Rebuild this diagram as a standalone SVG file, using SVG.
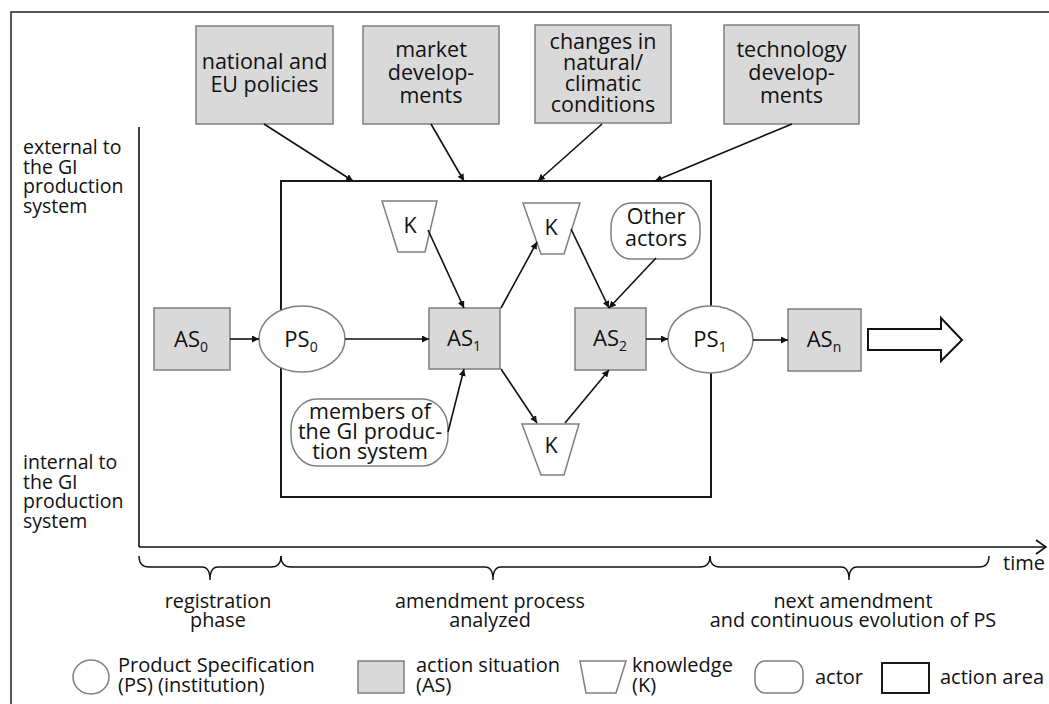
<svg xmlns="http://www.w3.org/2000/svg" width="1049" height="704" viewBox="0 0 1049 704">
<style>
text{font-family:"Open Sans","Noto Sans",sans-serif;fill:#111;}
.lbl{font-size:21.5px;text-anchor:middle;}
.side{font-size:19.5px;}
.as{fill:#d9d9d9;stroke:#7f7f7f;stroke-width:1.5;}
.ps{fill:#fff;stroke:#7f7f7f;stroke-width:1.5;}
.k{fill:#fff;stroke:#7f7f7f;stroke-width:1.5;}
.actor{fill:#fff;stroke:#7f7f7f;stroke-width:1.5;}
.area{fill:none;stroke:#1a1a1a;stroke-width:2;}
.edge{fill:none;stroke:#111;stroke-width:1.6;marker-end:url(#ah);}
.brace{fill:none;stroke:#111;stroke-width:1.4;}
.big{font-size:22px;text-anchor:middle;}
.sub{font-size:14px;}
.leg{font-size:20px;}
.ph{font-size:19.8px;text-anchor:middle;}
</style>
<defs>
<marker id="ah" viewBox="0 0 10 10" refX="10" refY="5" markerWidth="7" markerHeight="7" orient="auto" markerUnits="userSpaceOnUse">
<path d="M0,0 L10,5 L0,10 z" fill="#111"/>
</marker>
<marker id="open" viewBox="0 0 12 16" refX="11" refY="8" markerWidth="12" markerHeight="16" orient="auto" markerUnits="userSpaceOnUse">
<path d="M1,1 L11,8 L1,15" fill="none" stroke="#111" stroke-width="1.6"/>
</marker>
</defs>
<rect width="1049" height="704" fill="#fff"/>
<!-- outer frame -->
<path d="M11,704 L11,12 L1049,12" fill="none" stroke="#222" stroke-width="1.5"/>

<!-- axes -->
<g id="axes">
<line x1="139" y1="127" x2="139" y2="547" stroke="#111" stroke-width="1.6"/>
<line x1="139" y1="547" x2="1046" y2="547" stroke="#111" stroke-width="1.6" marker-end="url(#open)"/>
<text x="1003" y="570" style="font-size:20px">time</text>
</g>

<g id="side-labels">
<text class="side" x="23" y="154">external to</text>
<text class="side" x="23" y="174">the GI</text>
<text class="side" x="23" y="193">production</text>
<text class="side" x="23" y="213">system</text>
<text class="side" x="23" y="469">internal to</text>
<text class="side" x="23" y="489">the GI</text>
<text class="side" x="23" y="508">production</text>
<text class="side" x="23" y="528">system</text>
</g>

<!-- action area -->
<g id="action-area"><rect class="area" x="281" y="181" width="430" height="316"/></g>

<!-- top boxes -->
<g id="policies"><rect class="as" x="196" y="26" width="137" height="98"/>
<text class="lbl" x="264.5" y="69">national and</text><text class="lbl" x="264.5" y="92">EU policies</text></g>
<g id="market"><rect class="as" x="363" y="26" width="136" height="98"/>
<text class="lbl" x="431" y="57">market</text><text class="lbl" x="431" y="80">develop-</text><text class="lbl" x="431" y="103">ments</text></g>
<g id="climate"><rect class="as" x="535" y="25" width="136" height="98"/>
<text class="lbl" x="603" y="49">changes in</text><text class="lbl" x="603" y="70">natural/</text><text class="lbl" x="603" y="91">climatic</text><text class="lbl" x="603" y="112">conditions</text></g>
<g id="technology"><rect class="as" x="724" y="25" width="135" height="99"/>
<text class="lbl" x="791.5" y="57">technology</text><text class="lbl" x="791.5" y="80">develop-</text><text class="lbl" x="791.5" y="103">ments</text></g>

<!-- main row -->
<g id="AS0"><rect class="as" x="154" y="308" width="76" height="62"/>
<text class="big" x="191" y="347">AS<tspan class="sub" dy="5">0</tspan></text></g>
<g id="PS0"><ellipse class="ps" cx="302" cy="339" rx="43" ry="33"/>
<text class="big" x="301" y="347">PS<tspan class="sub" dy="5">0</tspan></text></g>
<g id="AS1"><rect class="as" x="429" y="308" width="71" height="61"/>
<text class="big" x="464" y="346">AS<tspan class="sub" dy="5">1</tspan></text></g>
<g id="AS2"><rect class="as" x="575" y="308" width="71" height="62"/>
<text class="big" x="610" y="346">AS<tspan class="sub" dy="5">2</tspan></text></g>
<g id="PS1"><ellipse class="ps" cx="710.5" cy="339.5" rx="42.5" ry="33.5"/>
<text class="big" x="710" y="347">PS<tspan class="sub" dy="5">1</tspan></text></g>
<g id="ASn"><rect class="as" x="788" y="309" width="73" height="62"/>
<text class="big" x="824" y="347">AS<tspan class="sub" dy="5">n</tspan></text></g>
<g id="big-arrow"><path d="M868,329 L941,329 L941,318 L962,340 L941,361 L941,350 L868,350 Z" fill="#fff" stroke="#111" stroke-width="2"/></g>

<!-- knowledge -->
<g id="K1"><path class="k" d="M382,201 L437,201 L425,252 L398,252 Z"/><text class="lbl" x="410" y="233">K</text></g>
<g id="K2"><path class="k" d="M523,203 L580,203 L564,254 L541,254 Z"/><text class="lbl" x="551" y="235">K</text></g>
<g id="K3"><path class="k" d="M522,424 L579,424 L564,475 L541,475 Z"/><text class="lbl" x="551" y="453">K</text></g>

<!-- actors -->
<g id="other-actors"><rect class="actor" x="611" y="203" width="89" height="56" rx="20" ry="24"/>
<text class="lbl" x="656" y="224">Other</text><text class="lbl" x="656" y="246">actors</text></g>
<g id="members"><rect class="actor" x="291" y="399" width="157" height="67" rx="26" ry="30"/>
<text class="lbl" x="370" y="419">members of</text><text class="lbl" x="370" y="439">the GI produc-</text><text class="lbl" x="370" y="459">tion system</text></g>

<!-- connectors -->
<g id="connectors">
<line class="edge" x1="264" y1="124" x2="353" y2="181"/>
<line class="edge" x1="431" y1="124" x2="464" y2="181"/>
<line class="edge" x1="602" y1="124" x2="538" y2="181"/>
<line class="edge" x1="792" y1="124" x2="655" y2="181"/>
<line class="edge" x1="230" y1="339" x2="259" y2="339"/>
<line class="edge" x1="345" y1="339" x2="429" y2="339"/>
<line class="edge" x1="646" y1="339" x2="668" y2="339"/>
<line class="edge" x1="753" y1="340" x2="788" y2="340"/>
<line class="edge" x1="428" y1="230" x2="464" y2="308"/>
<line class="edge" x1="501" y1="308" x2="537" y2="242"/>
<line class="edge" x1="571" y1="229" x2="609" y2="308"/>
<line class="edge" x1="656" y1="258" x2="609" y2="308"/>
<line class="edge" x1="501" y1="369" x2="537" y2="423"/>
<line class="edge" x1="565" y1="423" x2="609" y2="370"/>
<line class="edge" x1="448" y1="432" x2="464" y2="369"/>
</g>

<!-- braces -->
<g id="braces">
<path class="brace" d="M139,556 Q139,567 149,567 L202,567 Q210,567 210,580 Q210,567 218,567 L271,567 Q281,567 281,556"/>
<path class="brace" d="M281,556 Q281,567 291,567 L485,567 Q493,567 493,580 Q493,567 501,567 L700,567 Q710,567 710,556"/>
<path class="brace" d="M710,556 Q710,567 720,567 L841,567 Q849,567 849,580 Q849,567 857,567 L979,567 Q989,567 989,556"/>
<text class="ph" x="218" y="608">registration</text>
<text class="ph" x="218" y="627">phase</text>
<text class="ph" x="490" y="608">amendment process</text>
<text class="ph" x="490" y="627">analyzed</text>
<text class="ph" x="853" y="608">next amendment</text>
<text class="ph" x="853" y="627">and continuous evolution of PS</text>
</g>

<!-- legend -->
<g id="legend">
<ellipse class="ps" cx="91" cy="677" rx="18" ry="17"/>
<text class="leg" x="118" y="672">Product Specification</text>
<text class="leg" x="118" y="692">(PS) (institution)</text>
<rect class="as" x="358" y="661" width="46" height="32"/>
<text class="leg" x="416" y="672">action situation</text>
<text class="leg" x="416" y="692">(AS)</text>
<path class="k" d="M580,661 L626,661 L616,693 L586,693 Z"/>
<text class="leg" x="632" y="672">knowledge</text>
<text class="leg" x="632" y="692">(K)</text>
<rect class="actor" x="755" y="661" width="48" height="32" rx="10" ry="12"/>
<text class="leg" x="815" y="684">actor</text>
<rect class="area" x="882" y="663" width="47" height="30"/>
<text class="leg" x="940" y="684">action area</text>
</g>
</svg>
